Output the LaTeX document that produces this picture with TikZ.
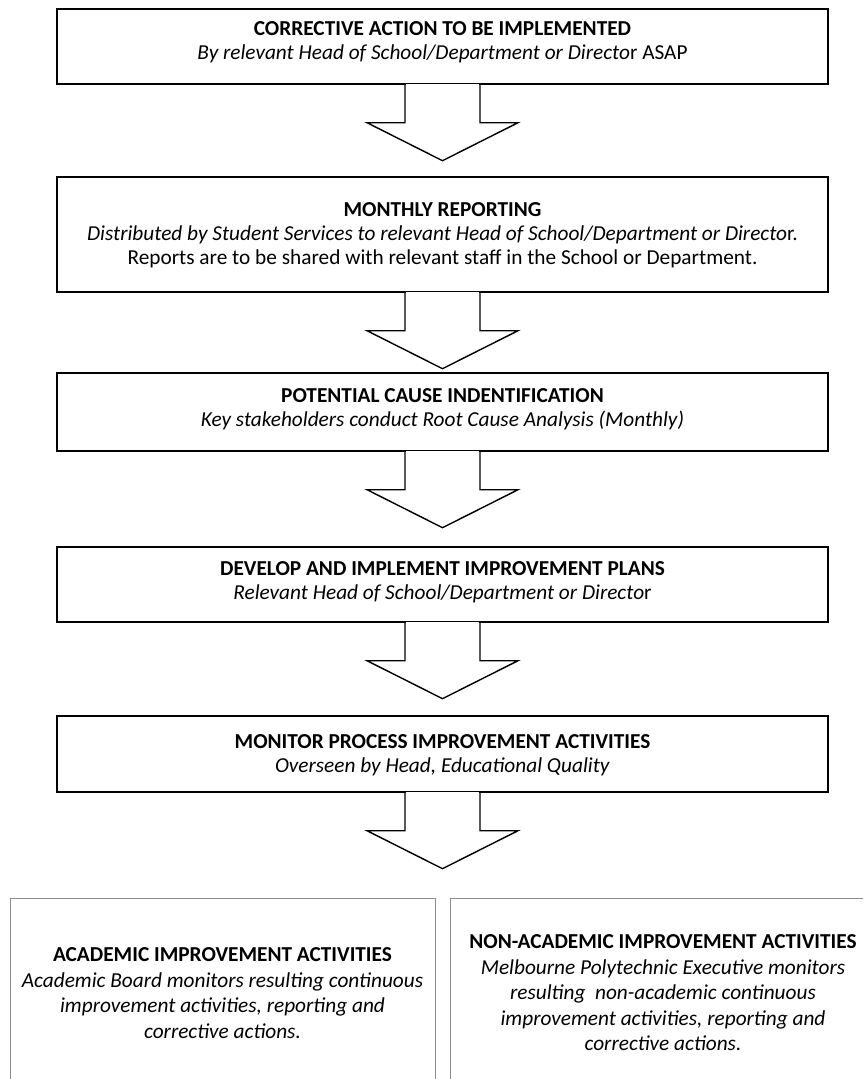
\documentclass[tikz,border=0pt]{standalone}
\usepackage{fontspec}
\setmainfont{Carlito}
\usetikzlibrary{calc}
\tikzset{
  x=1pt, y=1pt,
  flowbox/.style={draw=black, line width=1.4pt, fill=white, inner sep=0pt,
    minimum width=771pt},
  boxtext/.style={align=center, inner sep=0pt, font=\fontsize{21.3}{24}\selectfont},
  lowbox/.style={draw=black!45, line width=1pt, inner sep=0pt, minimum width=425pt},
  lowtext/.style={align=center, inner sep=0pt, font=\fontsize{21.3}{25.5}\selectfont},
  arrowline/.style={draw=black, line width=1.4pt, line join=miter},
}
\newcommand{\blockarrow}[1]{%
  \fill[white] ($(#1.south)+(-36.6,1)$) rectangle ($(#1.south)+(36.6,-2)$);
  \draw[arrowline] ($(#1.south)+(-37.5,0)$) -- ($(#1.south)+(-37.5,-38)$)
    -- ($(#1.south)+(-75.5,-38)$) -- ($(#1.south)+(0,-76)$)
    -- ($(#1.south)+(75.5,-38)$) -- ($(#1.south)+(37.5,-38)$)
    -- ($(#1.south)+(37.5,0)$);}
\begin{document}
\begin{tikzpicture}
\useasboundingbox (0,0) rectangle (863,-1079);
\clip (0,0) rectangle (863,-1079);
\fill[white] (0,0) rectangle (863,-1079);

\node[flowbox, minimum height=75pt] (b1) at (442.5,-46.5) {};
\node[boxtext] (t1) at (442.5,-42.5)
  {\textbf{CORRECTIVE ACTION TO BE IMPLEMENTED}\\
   \textit{By relevant Head of School/Department or Directo}r ASAP};
\node[flowbox, minimum height=115pt] (b2) at (442.5,-234.5) {};
\node[boxtext] (t2) at (442.5,-235.5)
  {\textbf{MONTHLY REPORTING}\\
   \textit{Distributed by Student Services to relevant Head of School/Department or Directo}r.\\
   Reports are to be shared with relevant staff in the School or Department.};
\node[flowbox, minimum height=78pt] (b3) at (442.5,-412) {};
\node[boxtext] (t3) at (442.5,-409)
  {\textbf{POTENTIAL CAUSE INDENTIFICATION}\\
   \textit{Key stakeholders conduct Root Cause Analysis (Monthly)}};
\node[flowbox, minimum height=75pt] (b4) at (442.5,-584.5) {};
\node[boxtext] (t4) at (442.5,-582.5)
  {\textbf{DEVELOP AND IMPLEMENT IMPROVEMENT PLANS}\\
   \textit{Relevant Head of School/Department or Directo}r};
\node[flowbox, minimum height=76pt] (b5) at (442.5,-754) {};
\node[boxtext] (t5) at (442.5,-755)
  {\textbf{MONITOR PROCESS IMPROVEMENT ACTIVITIES}\\
   \textit{Overseen by Head, Educational Quality}};

\blockarrow{b1}
\blockarrow{b2}
\blockarrow{b3}
\blockarrow{b4}
\blockarrow{b5}

\node[lowbox, minimum height=200pt, anchor=north] (l) at (222.5,-898) {};
\node[lowbox, minimum height=200pt, minimum width=426pt, anchor=north west] (r) at (450,-898) {};
\node[lowtext] (lt) at (222.5,-993)
  {\textbf{ACADEMIC IMPROVEMENT ACTIVITIES}\\
   \textit{Academic Board monitors resulting continuous}\\
   \textit{improvement activities, reporting and}\\
   \textit{corrective actions.}};
\node[lowtext] (rt) at (663,-993)
  {\textbf{NON-ACADEMIC IMPROVEMENT ACTIVITIES}\\
   \textit{Melbourne Polytechnic Executive monitors}\\
   \textit{resulting\ \ non-academic continuous}\\
   \textit{improvement activities, reporting and}\\
   \textit{corrective actions.}};
\end{tikzpicture}
\end{document}
